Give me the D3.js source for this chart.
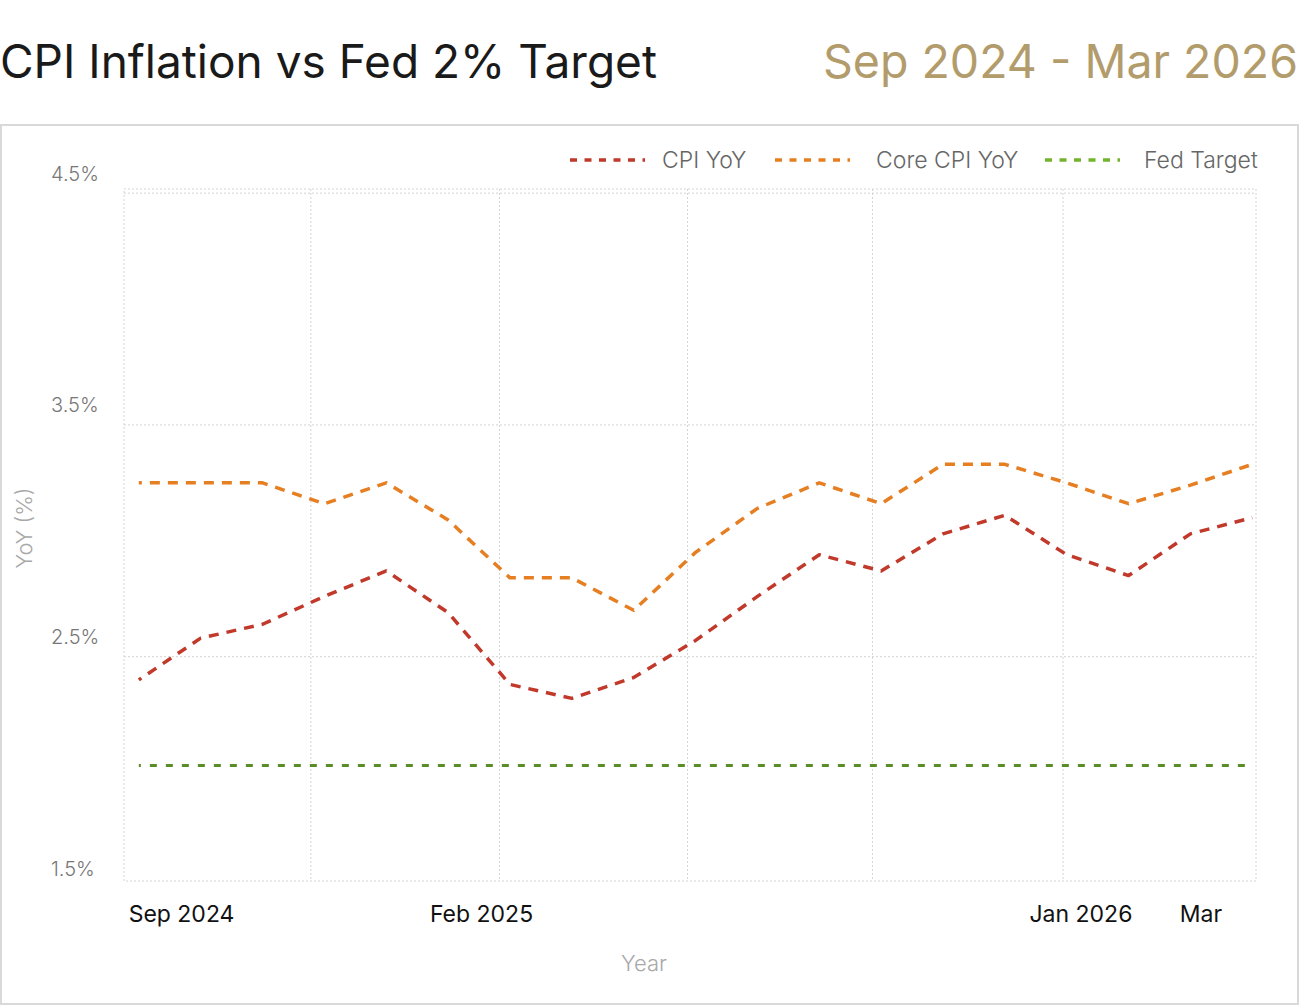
<!DOCTYPE html>
<html>
<head>
<meta charset="utf-8">
<script src="https://cdn.jsdelivr.net/npm/d3@7"></script>
<style>
  body { margin: 0; background: #fff; }
  svg text { font-family: Inter, "Noto Sans", sans-serif; }
</style>
</head>
<body>
<div id="chart"></div>
<script>
// months on the x axis (Sep 2024 .. Mar 2026)
var months = ["Sep 2024", "Oct 2024", "Nov 2024", "Dec 2024", "Jan 2025", "Feb 2025", "Mar 2025",
  "Apr 2025", "May 2025", "Jun 2025", "Jul 2025", "Aug 2025", "Sep 2025", "Oct 2025", "Nov 2025",
  "Dec 2025", "Jan 2026", "Feb 2026", "Mar 2026"]

// YoY values in %
var cpiYoY = [2.40, 2.58, 2.64, 2.76, 2.87, 2.69, 2.38, 2.32, 2.41, 2.57, 2.76, 2.94, 2.87, 3.03, 3.11, 2.94, 2.85, 3.03, 3.10]
var coreCpiYoY = [3.25, 3.25, 3.25, 3.16, 3.25, 3.09, 2.84, 2.84, 2.70, 2.95, 3.14, 3.25, 3.16, 3.33, 3.33, 3.25, 3.16, 3.24, 3.33]
var fedTarget = [2.03, 2.03, 2.03, 2.03, 2.03, 2.03, 2.03, 2.03, 2.03, 2.03, 2.03, 2.03, 2.03, 2.03, 2.03, 2.03, 2.03, 2.03, 2.03]

// axis ticks
var yTicks = [1.5, 2.5, 3.5, 4.5]
var xTickLabels = ["Sep 2024", "Feb 2025", "Jan 2026", "Mar"]
var xTickAt = [0.69, 5.54, 15.23, 17.17]     // month index where each label sits
var xGridAt = [2.78, 5.83, 8.87, 11.86, 14.94]

var seriesNames = ["CPI YoY", "Core CPI YoY", "Fed Target"]
var lineColors = ["#c0392b", "#e67e22", "#5b8c2a"]
var legendColors = ["#c0392b", "#e67e22", "#73b32e"]

// set the dimensions and margins of the graph
var width = 1300, height = 1006
var plot = { left: 124, right: 1256, top: 189, bottom: 881 }

var svg = d3.select("#chart")
  .append("svg")
  .attr("width", width)
  .attr("height", height)

// title + date range
svg.append("text")
  .attr("x", 0).attr("y", 78)
  .style("font-size", "46px")
  .style("fill", "#1a1a1a")
  .text("CPI Inflation vs Fed 2% Target")

svg.append("text")
  .attr("x", 1298).attr("y", 78)
  .attr("text-anchor", "end")
  .style("font-size", "46.5px")
  .style("fill", "#b39c6b")
  .text("Sep 2024 - Mar 2026")

// card border
svg.append("rect")
  .attr("x", 1).attr("y", 125)
  .attr("width", 1297).attr("height", 879)
  .style("fill", "none")
  .style("stroke", "#d9d9d9")
  .style("stroke-width", 2)

var x = d3.scaleLinear()
  .domain([-0.24, 18.06])
  .range([plot.left, plot.right])

var y = d3.scaleLinear()
  .domain([1.532, 4.518])
  .range([plot.bottom, plot.top])

// grid
var grid = svg.append("g")
  .style("stroke", "#d4d4d4")
  .style("stroke-width", 1)
  .style("stroke-dasharray", "2,2")
  .style("fill", "none")

grid.append("rect")
  .attr("x", plot.left).attr("y", plot.top)
  .attr("width", plot.right - plot.left)
  .attr("height", plot.bottom - plot.top)

grid.selectAll("line.v")
  .data(xGridAt).enter()
  .append("line")
  .attr("class", "v")
  .attr("x1", function (d) { return x(d) }).attr("x2", function (d) { return x(d) })
  .attr("y1", plot.top).attr("y2", plot.bottom)

grid.selectAll("line.h")
  .data(yTicks.filter(function (d) { return y(d) > plot.top && y(d) < plot.bottom })).enter()
  .append("line")
  .attr("class", "h")
  .attr("x1", plot.left).attr("x2", plot.right)
  .attr("y1", function (d) { return y(d) }).attr("y2", function (d) { return y(d) })

// y tick labels sit a little above their value
svg.selectAll("text.ytick")
  .data(yTicks).enter()
  .append("text")
  .attr("class", "ytick")
  .attr("x", 51)
  .attr("y", function (d) { return y(d) - 12.5 })
  .style("font-size", "20px")
  .style("font-weight", 300)
  .style("fill", "#777")
  .text(function (d) { return d.toFixed(1) + "%" })

// x tick labels
svg.selectAll("text.xtick")
  .data(xTickLabels).enter()
  .append("text")
  .attr("class", "xtick")
  .attr("x", function (d, i) { return x(xTickAt[i]) })
  .attr("y", 922)
  .attr("text-anchor", "middle")
  .style("font-size", "23px")
  .style("fill", "#111")
  .text(function (d) { return d })

// axis titles
svg.append("text")
  .attr("x", 644).attr("y", 971)
  .attr("text-anchor", "middle")
  .style("font-size", "22px")
  .style("font-weight", 300)
  .style("fill", "#a8a8a8")
  .text("Year")

svg.append("text")
  .attr("transform", "translate(32,528) rotate(-90)")
  .attr("text-anchor", "middle")
  .style("font-size", "22px")
  .style("font-weight", 300)
  .style("fill", "#a8a8a8")
  .text("YoY (%)")

// the lines
var line = d3.line()
  .x(function (d, i) { return x(i) })
  .y(function (d) { return y(d) })

var allSeries = [cpiYoY, coreCpiYoY, fedTarget]

svg.selectAll("path.series")
  .data(allSeries).enter()
  .append("path")
  .attr("class", "series")
  .attr("d", line)
  .style("fill", "none")
  .style("stroke", function (d, i) { return lineColors[i] })
  .style("stroke-width", function (d, i) { return i == 2 ? 3 : 3.5 })
  .style("stroke-linejoin", "round")
  .style("stroke-dasharray", function (d, i) { return i == 2 ? "7,9" : "10,8" })
  .style("stroke-dashoffset", function (d, i) { return i == 2 ? 5 : 7 })

// legend
var legendX = [570, 775, 1045]
var legendTextX = [662, 876, 1144]
var legend = svg.selectAll("g.legend")
  .data(seriesNames).enter()
  .append("g")
  .attr("class", "legend")

legend.append("line")
  .attr("x1", function (d, i) { return legendX[i] })
  .attr("x2", function (d, i) { return legendX[i] + 75 })
  .attr("y1", 160).attr("y2", 160)
  .style("stroke", function (d, i) { return legendColors[i] })
  .style("stroke-width", 3.5)
  .style("stroke-dasharray", "7,7.5")

legend.append("text")
  .attr("x", function (d, i) { return legendTextX[i] })
  .attr("y", 168)
  .style("font-size", "23px")
  .style("font-weight", 300)
  .style("fill", "#666")
  .text(function (d) { return d })
</script>
</body>
</html>
